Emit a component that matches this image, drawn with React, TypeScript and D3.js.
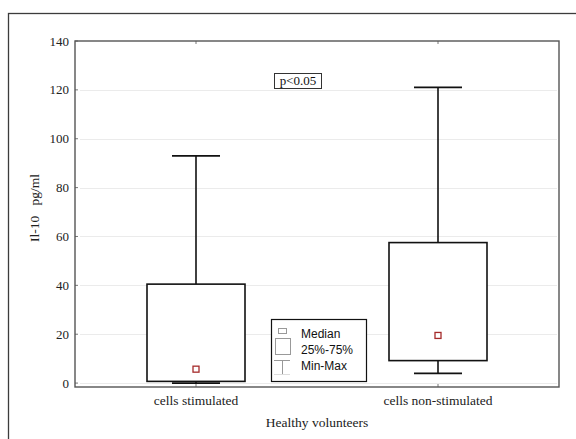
import { useEffect, useRef } from 'react';
import * as d3 from 'd3';

const categories = ['cells stimulated', 'cells non-stimulated'];
const minValues = [0, 4];
const q1Values = [0.7, 9.2];
const medianValues = [5.7, 19.5];
const q3Values = [40.5, 57.5];
const maxValues = [93, 121];
const yTicks = [0, 20, 40, 60, 80, 100, 120, 140];
const legendLabels = ['Median', '25%-75%', 'Min-Max'];

export default function App() {
  const svgRef = useRef<SVGSVGElement>(null);
  const width = 576;
  const height = 439;

  useEffect(() => {
    if (!svgRef.current) return;
    const svg = d3.select(svgRef.current);
    svg.selectAll('*').remove();

    const serif = '"Liberation Serif", "DejaVu Serif", serif';
    const sans = '"Liberation Sans", Arial, sans-serif';

    // outer frame (runs off the right / bottom edge)
    svg
      .append('rect')
      .attr('x', 8.5)
      .attr('y', 13.5)
      .attr('width', 700)
      .attr('height', 600)
      .attr('fill', 'none')
      .attr('stroke', '#3c3c3c')
      .attr('stroke-width', 1.3);

    const margin = { left: 75, top: 41, right: 559, bottom: 387 };

    const x = d3
      .scalePoint<string>()
      .domain(categories)
      .range([margin.left, margin.right])
      .padding(0.5);

    const y = d3.scaleLinear().domain([-1.6, 140]).range([margin.bottom, margin.top]);

    // gridlines
    svg
      .append('g')
      .selectAll('line')
      .data(yTicks.slice(0, -1))
      .enter()
      .append('line')
      .attr('x1', margin.left + 5)
      .attr('x2', margin.right - 2)
      .attr('y1', (d) => Math.round(y(d)) + 0.5)
      .attr('y2', (d) => Math.round(y(d)) + 0.5)
      .attr('stroke', '#ebebeb')
      .attr('stroke-width', 1);

    // y axis tick labels
    svg
      .append('g')
      .selectAll('text')
      .data(yTicks)
      .enter()
      .append('text')
      .attr('x', margin.left - 6)
      .attr('y', (d) => y(d))
      .attr('dy', '0.35em')
      .attr('text-anchor', 'end')
      .attr('font-family', serif)
      .attr('font-size', '13px')
      .attr('fill', '#222')
      .text((d) => d);

    // small inner ticks
    svg
      .append('g')
      .selectAll('line')
      .data(yTicks)
      .enter()
      .append('line')
      .attr('x1', margin.left)
      .attr('x2', margin.left + 3)
      .attr('y1', (d) => y(d))
      .attr('y2', (d) => y(d))
      .attr('stroke', '#777');

    categories.forEach((c) => {
      const cx = x(c) || 0;
      svg.append('line').attr('x1', cx).attr('x2', cx).attr('y1', margin.top).attr('y2', margin.top + 3).attr('stroke', '#777');
      svg.append('line').attr('x1', cx).attr('x2', cx).attr('y1', margin.bottom).attr('y2', margin.bottom - 3).attr('stroke', '#777');
    });

    // boxes
    const boxHalf = 49;
    const capHalf = 24;
    const g = svg.append('g');
    categories.forEach((c, i) => {
      const cx = x(c) || 0;
      // whiskers
      g.append('line')
        .attr('x1', cx).attr('x2', cx)
        .attr('y1', y(maxValues[i])).attr('y2', y(q3Values[i]))
        .attr('stroke', '#111').attr('stroke-width', 1.6);
      g.append('line')
        .attr('x1', cx).attr('x2', cx)
        .attr('y1', y(q1Values[i])).attr('y2', y(minValues[i]))
        .attr('stroke', '#111').attr('stroke-width', 1.6);
      g.append('line')
        .attr('x1', cx - capHalf).attr('x2', cx + capHalf)
        .attr('y1', y(maxValues[i])).attr('y2', y(maxValues[i]))
        .attr('stroke', '#111').attr('stroke-width', 1.8);
      g.append('line')
        .attr('x1', cx - capHalf).attr('x2', cx + capHalf)
        .attr('y1', y(minValues[i])).attr('y2', y(minValues[i]))
        .attr('stroke', '#111').attr('stroke-width', 1.8);
      // box
      g.append('rect')
        .attr('x', cx - boxHalf)
        .attr('y', y(q3Values[i]))
        .attr('width', boxHalf * 2)
        .attr('height', y(q1Values[i]) - y(q3Values[i]))
        .attr('fill', '#fff')
        .attr('stroke', '#111')
        .attr('stroke-width', 1.6);
      // median marker
      g.append('rect')
        .attr('x', cx - 3)
        .attr('y', y(medianValues[i]) - 3)
        .attr('width', 6)
        .attr('height', 6)
        .attr('fill', '#fff')
        .attr('stroke', '#a52a2a')
        .attr('stroke-width', 1.3);
    });

    // plot frame
    svg
      .append('rect')
      .attr('x', margin.left)
      .attr('y', margin.top)
      .attr('width', margin.right - margin.left)
      .attr('height', margin.bottom - margin.top)
      .attr('fill', 'none')
      .attr('stroke', '#555')
      .attr('stroke-width', 1.4);

    // x tick labels
    svg
      .append('g')
      .selectAll('text')
      .data(categories)
      .enter()
      .append('text')
      .attr('x', (d) => x(d) || 0)
      .attr('y', 405)
      .attr('text-anchor', 'middle')
      .attr('font-family', serif)
      .attr('font-size', '13.5px')
      .attr('fill', '#222')
      .text((d) => d);

    // axis titles
    svg
      .append('text')
      .attr('x', (margin.left + margin.right) / 2)
      .attr('y', 427)
      .attr('text-anchor', 'middle')
      .attr('font-family', serif)
      .attr('font-size', '13.5px')
      .attr('fill', '#222')
      .text('Healthy volunteers');

    svg
      .append('text')
      .attr('transform', `translate(39,208) rotate(-90)`)
      .attr('text-anchor', 'middle')
      .attr('font-family', serif)
      .attr('font-size', '13.5px')
      .attr('fill', '#222')
      .style('white-space', 'pre')
      .text('Il-10   pg/ml');

    // p-value box
    svg
      .append('rect')
      .attr('x', 274.5)
      .attr('y', 73.5)
      .attr('width', 47)
      .attr('height', 15)
      .attr('fill', '#fff')
      .attr('stroke', '#333')
      .attr('stroke-width', 1);
    svg
      .append('text')
      .attr('x', 298)
      .attr('y', 85)
      .attr('text-anchor', 'middle')
      .attr('font-family', serif)
      .attr('font-size', '13px')
      .attr('fill', '#111')
      .text('p<0.05');

    // legend
    const legend = svg.append('g').attr('transform', 'translate(271,319)');
    legend
      .append('rect')
      .attr('x', 0.5)
      .attr('y', 0.5)
      .attr('width', 95)
      .attr('height', 62)
      .attr('fill', '#fff')
      .attr('stroke', '#111')
      .attr('stroke-width', 1.2);
    const icon = '#999';
    legend.append('rect').attr('x', 7.5).attr('y', 9.5).attr('width', 8).attr('height', 5).attr('fill', 'none').attr('stroke', icon);
    legend.append('rect').attr('x', 4.5).attr('y', 19.5).attr('width', 15).attr('height', 16).attr('fill', 'none').attr('stroke', icon);
    legend.append('line').attr('x1', 3).attr('x2', 19).attr('y1', 41.5).attr('y2', 41.5).attr('stroke', icon);
    legend.append('line').attr('x1', 11.5).attr('x2', 11.5).attr('y1', 41.5).attr('y2', 55).attr('stroke', icon);
    legend.append('line').attr('x1', 3).attr('x2', 19).attr('y1', 55.5).attr('y2', 55.5).attr('stroke', '#ddd');

    legend
      .selectAll('text.lbl')
      .data(legendLabels)
      .enter()
      .append('text')
      .attr('class', 'lbl')
      .attr('x', 30)
      .attr('y', (_, i) => 19 + i * 16)
      .attr('font-family', sans)
      .attr('font-size', '12px')
      .attr('fill', '#111')
      .text((d) => d);
  }, []);

  return (
    <svg
      ref={svgRef}
      width={width}
      height={height}
      style={{ position: 'absolute', left: 0, top: 0, background: '#fff' }}
    />
  );
}
